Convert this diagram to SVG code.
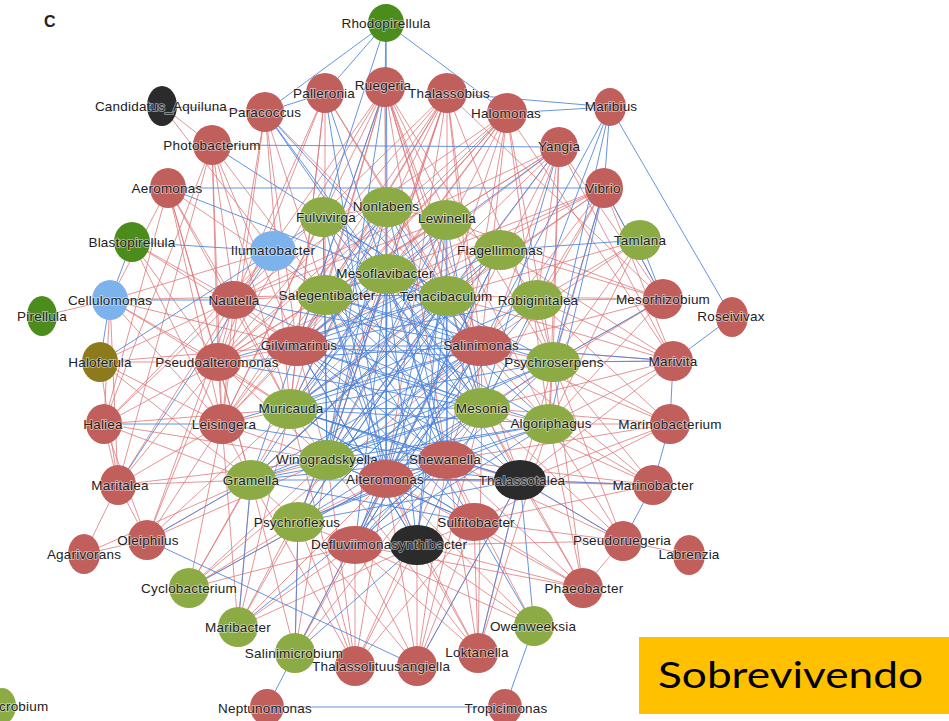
<svg xmlns="http://www.w3.org/2000/svg" width="949" height="721" viewBox="0 0 949 721">
<style>
.r{stroke:#de7678;stroke-width:1;fill:none;stroke-opacity:.78}
.b{stroke:#4a83db;stroke-width:1;fill:none;stroke-opacity:.85}
.nr{fill:#c15f5c}.ng{fill:#8dab45}.nd{fill:#4b8c1d}.nb{fill:#7db3ec}.no{fill:#8c7a1c}.nk{fill:#2b2b2b}
.lb{font-family:"Liberation Sans",Arial,sans-serif;font-size:13.5px;fill:#222;text-anchor:middle;stroke:#fff;stroke-width:1.6px;stroke-opacity:.55;paint-order:stroke;letter-spacing:.2px}
.st{text-anchor:start}
</style>
<rect width="949" height="721" fill="#fff"/>
<text x="44" y="27" style="font-family:'Liberation Sans',Arial,sans-serif;font-size:16px;font-weight:bold;fill:#222">C</text>

<g id="edges">
<path class="r" d="M385 87L387 274M385 87L325 295M385 87L447 296M385 87L297 346M385 87L481 346M385 87L290 409M385 87L482 408M385 87L447 460M385 87L386 479M385 87L218 362M385 87L222 424M385 87L553 362M385 87L549 424M385 87L520 480M385 87L234 300"/>
<path class="r" d="M447 93L387 274M447 93L325 295M447 93L447 296M447 93L297 346M447 93L481 346M447 93L290 409M447 93L482 408M447 93L327 460M447 93L386 479M447 93L234 300M447 93L218 362M447 93L222 424M447 93L298 522M447 93L663 299M447 93L553 362"/>
<path class="r" d="M507 113L387 274M507 113L325 295M507 113L447 296M507 113L297 346M507 113L481 346M507 113L327 460M507 113L447 460M507 113L290 409M507 113L222 424M507 113L218 362M507 113L234 300M507 113L553 362M507 113L673 361M507 113L549 424"/>
<path class="r" d="M559 147L325 295M559 147L297 346M559 147L290 409M559 147L447 460M559 147L386 479M559 147L327 460M559 147L234 300M559 147L218 362M559 147L553 362M559 147L673 361M559 147L537 300M559 147L549 424M559 147L663 299"/>
<path class="r" d="M604 188L325 295M604 188L297 346M604 188L290 409M604 188L481 346M604 188L482 408M604 188L520 480M604 188L663 299M604 188L673 361M604 188L537 300M604 188L218 362M604 188L447 296"/>
<path class="r" d="M325 93L234 300M325 93L297 346M325 93L447 296M325 93L481 346M325 93L290 409M325 93L218 362M325 93L325 295"/>
<path class="r" d="M265 112L297 346M265 112L234 300M265 112L290 409M265 112L222 424M265 112L325 295M265 112L447 296"/>
<path class="r" d="M212 145L234 300M212 145L218 362M212 145L297 346M212 145L290 409M212 145L222 424M212 145L104 424M212 145L118 485M212 145L325 295"/>
<path class="r" d="M162 106L212 145M162 106L265 112M162 106L273 251"/>
<path class="r" d="M168 188L234 300M168 188L218 362M168 188L222 424M168 188L104 424M168 188L251 480M168 188L290 409M168 188L110 300M168 188L325 295"/>
<path class="r" d="M132 242L234 300M132 242L218 362M132 242L222 424M132 242L297 346"/>
<path class="r" d="M110 300L218 362M110 300L222 424M110 300L297 346M110 300L290 409M110 300L325 295M110 300L118 485M110 300L273 251M42 316L110 300"/>
<path class="r" d="M100 362L234 300M100 362L218 362M100 362L222 424M100 362L251 480M100 362L118 485M100 362L297 346"/>
<path class="r" d="M104 424L234 300M104 424L218 362M104 424L251 480M104 424L290 409M104 424L327 460M104 424L118 485M104 424L147 540M104 424L273 251M104 424L110 300"/>
<path class="r" d="M118 485L251 480M118 485L222 424M118 485L218 362M118 485L234 300M118 485L327 460M118 485L147 540M118 485L84 554"/>
<path class="r" d="M147 540L251 480M147 540L222 424M147 540L218 362M147 540L84 554M147 540L327 460M147 540L290 409M147 540L234 300M84 554L251 480"/>
<path class="r" d="M189 588L251 480M189 588L222 424M189 588L327 460M189 588L290 409M189 588L386 479M189 588L298 522M189 588L355 545M189 588L481 346"/>
<path class="r" d="M238 627L251 480M238 627L298 522M238 627L327 460M238 627L355 545M238 627L386 479M238 627L417 545M238 627L290 409M238 627L222 424"/>
<path class="r" d="M295 653L355 545M295 653L298 522M295 653L251 480M295 653L386 479M295 653L447 460M295 653L327 460"/>
<path class="r" d="M355 666L355 545M355 666L298 522M355 666L417 545M355 666L386 479M355 666L327 460M355 666L251 480M355 666L447 460M355 666L474 522M355 666L290 409"/>
<path class="r" d="M417 666L355 545M417 666L417 545M417 666L386 479M417 666L447 460M417 666L474 522M417 666L298 522M417 666L520 480M417 666L482 408"/>
<path class="r" d="M478 653L474 522M478 653L417 545M478 653L520 480M478 653L447 460M478 653L386 479M478 653L482 408M478 653L355 545M478 653L327 460M478 653L549 424"/>
<path class="r" d="M534 626L417 545M534 626L355 545M534 626L386 479M534 626L447 460"/>
<path class="r" d="M583 588L520 480M583 588L474 522M583 588L447 460M583 588L482 408M583 588L549 424M583 588L417 545M583 588L355 545M583 588L386 479M583 588L553 362M583 588L623 541"/>
<path class="r" d="M623 541L520 480M623 541L474 522M623 541L447 460M623 541L549 424M623 541L482 408M623 541L417 545M623 541L553 362M623 541L689 555"/>
<path class="r" d="M653 485L520 480M653 485L474 522M653 485L447 460M653 485L549 424M653 485L482 408M653 485L386 479M653 485L553 362M653 485L481 346"/>
<path class="r" d="M670 424L549 424M670 424L482 408M670 424L447 460M670 424L520 480M670 424L553 362M670 424L481 346M670 424L537 300M670 424L474 522"/>
<path class="r" d="M673 361L553 362M673 361L537 300M673 361L481 346M673 361L549 424M673 361L482 408M673 361L447 296M673 361L500 250M673 361L520 480"/>
<path class="r" d="M663 299L537 300M663 299L553 362M663 299L500 250M663 299L447 296M663 299L481 346M663 299L549 424M663 299L446 220M663 299L482 408"/>
<path class="r" d="M640 240L537 300M640 240L553 362M640 240L481 346M640 240L447 296M640 240L549 424"/>
<path class="r" d="M234 300L325 295M234 300L297 346M234 300L290 409M234 300L222 424M234 300L218 362M218 362L297 346M218 362L290 409M218 362L222 424M218 362L251 480M218 362L327 460M222 424L251 480M222 424L290 409M222 424L327 460M222 424L297 346"/>
<path class="r" d="M297 346L290 409M297 346L327 460M481 346L482 408M481 346L553 362M481 346L549 424M447 460L386 479M447 460L520 480M447 460L474 522M447 460L482 408M386 479L355 545M386 479L417 545M386 479L298 522M417 545L474 522M355 545L298 522M251 480L327 460M251 480L298 522M290 409L327 460M482 408L549 424M482 408L520 480M549 424L520 480M553 362L549 424M553 362L537 300M537 300L500 250M500 250L446 220M446 220L387 207M387 207L323 217M323 217L325 295M273 251L234 300M387 274L297 346M447 296L481 346M387 274L327 460M325 295L297 346M387 207L222 424M446 220L218 362M500 250L251 480M387 207L218 362M446 220L234 300M323 217L222 424"/>

<path class="b" d="M386 23L325 93M386 23L265 112M386 23L385 87M386 23L507 113M386 23L323 217M386 23L387 207M447 93L610 107M507 113L610 107M610 107L732 317M610 107L604 188M610 107L537 300M610 107L481 346M610 107L553 362"/>
<path class="b" d="M732 317L673 361M673 361L670 424M670 424L653 485M653 485L623 541M604 188L663 299M640 240L500 250M640 240L663 299M267 707L505 707M267 707L295 653M505 707L534 626M147 540L417 666M147 540L251 480"/>
<path class="b" d="M110 300L234 300M110 300L100 362M110 300L132 242M132 242L273 251M168 188L604 188M212 145L559 147M265 112L325 93M100 362L273 251M104 424L222 424M534 626L520 480M534 626L474 522M478 653L520 480M623 541L520 480M653 485L520 480M673 361L553 362M673 361L481 346M663 299L553 362"/>
<path class="b" d="M295 653L298 522M295 653L386 479M295 653L417 545M238 627L251 480M273 251L325 295M273 251L323 217M265 112L481 346M265 112L482 408M265 112L520 480M325 93L386 479M325 93L447 460M385 87L327 460M385 87L251 480M559 147L447 296M559 147L387 274M559 147L482 408M604 188L553 362M604 188L549 424M118 485L273 251M212 145L447 296M168 188L387 274M189 588L386 479M238 627L447 460M417 666L520 480"/>
<path class="b" d="M387 274L325 295M387 274L447 296M387 274L297 346M387 274L481 346M387 274L290 409M387 274L482 408M387 274L327 460M387 274L447 460M387 274L386 479M387 274L298 522M387 274L417 545M387 274L355 545M387 274L251 480M387 274L549 424M387 274L553 362"/>
<path class="b" d="M325 295L447 296M325 295L481 346M325 295L482 408M325 295L447 460M325 295L386 479M325 295L327 460M325 295L417 545M325 295L474 522M325 295L520 480M325 295L549 424M325 295L553 362"/>
<path class="b" d="M447 296L297 346M447 296L290 409M447 296L327 460M447 296L251 480M447 296L386 479M447 296L355 545M447 296L298 522M447 296L447 460M447 296L417 545M447 296L482 408"/>
<path class="b" d="M297 346L481 346M297 346L482 408M297 346L447 460M297 346L520 480M297 346L549 424M297 346L474 522M297 346L417 545M297 346L553 362M297 346L537 300M481 346L290 409M481 346L327 460M481 346L251 480M481 346L386 479M481 346L298 522M481 346L355 545"/>
<path class="b" d="M290 409L482 408M290 409L447 460M290 409L520 480M290 409L474 522M290 409L549 424M482 408L327 460M482 408L386 479M482 408L251 480M482 408L298 522M482 408L355 545M327 460L447 460M327 460L520 480M327 460L474 522M327 460L549 424M447 460L251 480M447 460L298 522M447 460L355 545M386 479L520 480M386 479L549 424"/>
<path class="b" d="M387 207L482 408M387 207L447 460M387 207L386 479M387 207L327 460M387 207L290 409M387 207L297 346M387 207L481 346M323 217L481 346M323 217L482 408M323 217L447 460M323 217L447 296M446 220L297 346M446 220L290 409M446 220L327 460M446 220L386 479M446 220L417 545M500 250L297 346M500 250L290 409M500 250L327 460M500 250L251 480"/>
<path class="b" d="M537 300L290 409M537 300L327 460M553 362L290 409M553 362L327 460M553 362L251 480M549 424L251 480M218 362L482 408M218 362L481 346M218 362L447 296M222 424L447 460M222 424L481 346M234 300L481 346M234 300L482 408M251 480L520 480M251 480L474 522"/>
<path class="b" d="M323 217L386 479M323 217L327 460M446 220L447 460M446 220L482 408M500 250L386 479M500 250L355 545M537 300L386 479M537 300L417 545M553 362L386 479M553 362L355 545M549 424L298 522M549 424L355 545M520 480L298 522M520 480L290 409M474 522L290 409M474 522L327 460M417 545L297 346M355 545L481 346M298 522L481 346M298 522L447 296"/>
</g>

<g id="nodes">
<g id="n-rhodopirellula"><ellipse class="nd" cx="386" cy="23" rx="18" ry="19"/><text class="lb" x="386" y="28">Rhodopirellula</text></g>
<g id="n-candidatus-aquiluna"><ellipse class="nk" cx="162" cy="106" rx="15" ry="20"/><text class="lb" x="161" y="111">Candidatus_Aquiluna</text></g>
<g id="n-paracoccus"><ellipse class="nr" cx="265" cy="112" rx="19" ry="20"/><text class="lb" x="265" y="117">Paracoccus</text></g>
<g id="n-palleronia"><ellipse class="nr" cx="325" cy="93" rx="19" ry="20"/><text class="lb" x="324" y="98">Palleronia</text></g>
<g id="n-ruegeria"><ellipse class="nr" cx="385" cy="87" rx="20" ry="20"/><text class="lb" x="383" y="90">Ruegeria</text></g>
<g id="n-thalassobius"><ellipse class="nr" cx="447" cy="93" rx="20" ry="20"/><text class="lb" x="449" y="98">Thalassobius</text></g>
<g id="n-halomonas"><ellipse class="nr" cx="507" cy="113" rx="20" ry="20"/><text class="lb" x="506" y="118">Halomonas</text></g>
<g id="n-maribius"><ellipse class="nr" cx="610" cy="107" rx="16" ry="19"/><text class="lb" x="611" y="111">Maribius</text></g>
<g id="n-photobacterium"><ellipse class="nr" cx="212" cy="145" rx="19" ry="20"/><text class="lb" x="212" y="150">Photobacterium</text></g>
<g id="n-yangia"><ellipse class="nr" cx="559" cy="147" rx="19" ry="20"/><text class="lb" x="559" y="151">Yangia</text></g>
<g id="n-aeromonas"><ellipse class="nr" cx="168" cy="188" rx="18" ry="20"/><text class="lb" x="167" y="193">Aeromonas</text></g>
<g id="n-vibrio"><ellipse class="nr" cx="604" cy="188" rx="19" ry="20"/><text class="lb" x="603" y="193">Vibrio</text></g>
<g id="n-blastopirellula"><ellipse class="nd" cx="132" cy="242" rx="18" ry="20"/><text class="lb" x="132" y="247">Blastopirellula</text></g>
<g id="n-ilumatobacter"><ellipse class="nb" cx="273" cy="251" rx="23" ry="20"/><text class="lb" x="273" y="255">Ilumatobacter</text></g>
<g id="n-cellulomonas"><ellipse class="nb" cx="110" cy="300" rx="18" ry="20"/><text class="lb" x="110" y="305">Cellulomonas</text></g>
<g id="n-pirellula"><ellipse class="nd" cx="42" cy="316" rx="15" ry="20"/><text class="lb" x="42" y="321">Pirellula</text></g>
<g id="n-haloferula"><ellipse class="no" cx="100" cy="362" rx="18" ry="20"/><text class="lb" x="100" y="367">Haloferula</text></g>
<g id="n-haliea"><ellipse class="nr" cx="104" cy="424" rx="18" ry="20"/><text class="lb" x="103" y="429">Haliea</text></g>
<g id="n-maritalea"><ellipse class="nr" cx="118" cy="485" rx="18" ry="20"/><text class="lb" x="120" y="490">Maritalea</text></g>
<g id="n-oleiphilus"><ellipse class="nr" cx="147" cy="540" rx="19" ry="20"/><text class="lb" x="148" y="545">Oleiphilus</text></g>
<g id="n-agarivorans"><ellipse class="nr" cx="84" cy="554" rx="16" ry="20"/><text class="lb" x="84" y="559">Agarivorans</text></g>
<g id="n-cyclobacterium"><ellipse class="ng" cx="189" cy="588" rx="20" ry="20"/><text class="lb" x="189" y="593">Cyclobacterium</text></g>
<g id="n-maribacter"><ellipse class="ng" cx="238" cy="627" rx="20" ry="20"/><text class="lb" x="238" y="632">Maribacter</text></g>
<g id="n-neptunomonas"><ellipse class="nr" cx="267" cy="707" rx="17" ry="18"/><text class="lb" x="265" y="713">Neptunomonas</text></g>
<g id="n-tropicimonas"><ellipse class="nr" cx="505" cy="707" rx="17" ry="18"/><text class="lb" x="506" y="713">Tropicimonas</text></g>
<g id="n-angiella"><ellipse class="nr" cx="417" cy="666" rx="20" ry="20"/><text class="lb st" x="402" y="671">angiella</text></g>
<g id="n-thalassolituus"><ellipse class="nr" cx="355" cy="666" rx="20" ry="20"/><text class="lb st" x="312" y="671">Thalassolituus</text></g>
<g id="n-salinimicrobium"><ellipse class="ng" cx="295" cy="653" rx="20" ry="20"/><text class="lb" x="294" y="658">Salinimicrobium</text></g>
<g id="n-loktanella"><ellipse class="nr" cx="478" cy="653" rx="20" ry="20"/><text class="lb" x="477" y="657">Loktanella</text></g>
<g id="n-owenweeksia"><ellipse class="ng" cx="534" cy="626" rx="20" ry="20"/><text class="lb" x="533" y="631">Owenweeksia</text></g>
<g id="n-phaeobacter"><ellipse class="nr" cx="583" cy="588" rx="20" ry="20"/><text class="lb" x="584" y="593">Phaeobacter</text></g>
<g id="n-pseudoruegeria"><ellipse class="nr" cx="623" cy="541" rx="19" ry="20"/><text class="lb" x="622" y="545">Pseudoruegeria</text></g>
<g id="n-labrenzia"><ellipse class="nr" cx="689" cy="555" rx="16" ry="20"/><text class="lb" x="689" y="559">Labrenzia</text></g>
<g id="n-marinobacter"><ellipse class="nr" cx="653" cy="485" rx="20" ry="20"/><text class="lb" x="653" y="490">Marinobacter</text></g>
<g id="n-marinobacterium"><ellipse class="nr" cx="670" cy="424" rx="20" ry="20"/><text class="lb" x="670" y="429">Marinobacterium</text></g>
<g id="n-marivita"><ellipse class="nr" cx="673" cy="361" rx="20" ry="20"/><text class="lb" x="673" y="366">Marivita</text></g>
<g id="n-mesorhizobium"><ellipse class="nr" cx="663" cy="299" rx="20" ry="20"/><text class="lb" x="663" y="304">Mesorhizobium</text></g>
<g id="n-roseivivax"><ellipse class="nr" cx="732" cy="317" rx="16" ry="20"/><text class="lb" x="731" y="321">Roseivivax</text></g>
<g id="n-tamlana"><ellipse class="ng" cx="640" cy="240" rx="21" ry="20"/><text class="lb" x="640" y="245">Tamlana</text></g>
<g id="n-salinimicrobium-edge"><ellipse class="ng" cx="2" cy="706" rx="14" ry="18"/><text class="lb st" x="-1" y="711">crobium</text></g>

<g id="n-fulvivirga"><ellipse class="ng" cx="323" cy="217" rx="23" ry="20"/><text class="lb" x="326" y="222">Fulvivirga</text></g>
<g id="n-nonlabens"><ellipse class="ng" cx="387" cy="207" rx="26" ry="20"/><text class="lb" x="386" y="211">Nonlabens</text></g>
<g id="n-lewinella"><ellipse class="ng" cx="446" cy="220" rx="26" ry="20"/><text class="lb" x="447" y="223">Lewinella</text></g>
<g id="n-flagellimonas"><ellipse class="ng" cx="500" cy="250" rx="26" ry="20"/><text class="lb" x="500" y="255">Flagellimonas</text></g>
<g id="n-nautella"><ellipse class="nr" cx="234" cy="300" rx="23" ry="19"/><text class="lb" x="234" y="305">Nautella</text></g>
<g id="n-mesoflavibacter"><ellipse class="ng" cx="387" cy="274" rx="30" ry="20"/><text class="lb" x="385" y="278">Mesoflavibacter</text></g>
<g id="n-salegentibacter"><ellipse class="ng" cx="325" cy="295" rx="28" ry="20"/><text class="lb" x="327" y="300">Salegentibacter</text></g>
<g id="n-tenacibaculum"><ellipse class="ng" cx="447" cy="296" rx="28" ry="20"/><text class="lb" x="446" y="301">Tenacibaculum</text></g>
<g id="n-robiginitalea"><ellipse class="ng" cx="537" cy="300" rx="26" ry="20"/><text class="lb" x="538" y="305">Robiginitalea</text></g>
<g id="n-gilvimarinus"><ellipse class="nr" cx="297" cy="346" rx="31" ry="20"/><text class="lb" x="299" y="350">Gilvimarinus</text></g>
<g id="n-salinimonas"><ellipse class="nr" cx="481" cy="346" rx="31" ry="20"/><text class="lb" x="481" y="350">Salinimonas</text></g>
<g id="n-pseudoalteromonas"><ellipse class="nr" cx="218" cy="362" rx="23" ry="19"/><text class="lb" x="217" y="367">Pseudoalteromonas</text></g>
<g id="n-psychroserpens"><ellipse class="ng" cx="553" cy="362" rx="27" ry="20"/><text class="lb" x="554" y="367">Psychroserpens</text></g>
<g id="n-leisingera"><ellipse class="nr" cx="222" cy="424" rx="23" ry="20"/><text class="lb" x="224" y="429">Leisingera</text></g>
<g id="n-muricauda"><ellipse class="ng" cx="290" cy="409" rx="28" ry="20"/><text class="lb" x="291" y="413">Muricauda</text></g>
<g id="n-mesonia"><ellipse class="ng" cx="482" cy="408" rx="28" ry="20"/><text class="lb" x="482" y="413">Mesonia</text></g>
<g id="n-algoriphagus"><ellipse class="ng" cx="549" cy="424" rx="26" ry="20"/><text class="lb" x="551" y="428">Algoriphagus</text></g>
<g id="n-winogradskyella"><ellipse class="ng" cx="327" cy="460" rx="28" ry="20"/><text class="lb" x="327" y="464">Winogradskyella</text></g>
<g id="n-shewanella"><ellipse class="nr" cx="447" cy="460" rx="29" ry="19"/><text class="lb" x="445" y="464">Shewanella</text></g>
<g id="n-gramella"><ellipse class="ng" cx="251" cy="480" rx="25" ry="20"/><text class="lb" x="251" y="485">Gramella</text></g>
<g id="n-alteromonas"><ellipse class="nr" cx="386" cy="479" rx="28" ry="19"/><text class="lb" x="385" y="484">Alteromonas</text></g>
<g id="n-thalassotalea"><ellipse class="nk" cx="520" cy="480" rx="26" ry="20"/><text class="lb" x="522" y="485">Thalassotalea</text></g>
<g id="n-psychroflexus"><ellipse class="ng" cx="298" cy="522" rx="26" ry="20"/><text class="lb" x="297" y="527">Psychroflexus</text></g>
<g id="n-sulfitobacter"><ellipse class="nr" cx="474" cy="522" rx="26" ry="19"/><text class="lb" x="476" y="527">Sulfitobacter</text></g>
<g id="n-synthibacter"><ellipse class="nk" cx="417" cy="545" rx="27" ry="20"/><text class="lb st" x="399" y="549">ynthibacter</text></g>
<g id="n-defluviimonas"><ellipse class="nr" cx="355" cy="545" rx="28" ry="19"/><text class="lb st" x="311" y="549">Defluviimonas</text></g>
</g>

<g id="caption">
<rect x="639" y="637" width="310" height="77" fill="#ffc000"/>
<text x="658" y="688" textLength="265" lengthAdjust="spacingAndGlyphs" style="font-family:Lato,'Open Sans',sans-serif;font-size:36px;fill:#000">Sobrevivendo</text>
</g>
</svg>
